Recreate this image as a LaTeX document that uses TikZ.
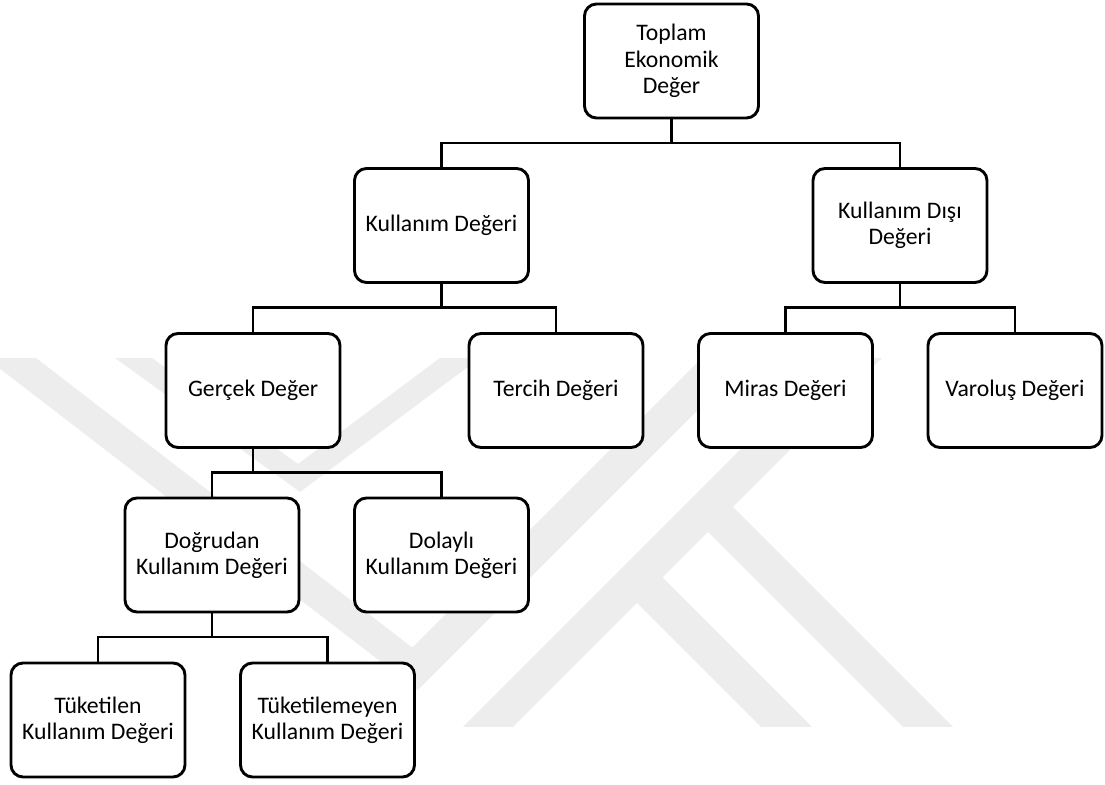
\documentclass[tikz,border=0pt]{standalone}
\usepackage{fontspec}
\setmainfont{Carlito}
\usepackage{tikz}

\begin{document}
\begin{tikzpicture}[x=0.5pt, y=-0.5pt,
        kutu/.style={draw, line width=1.45pt, rounded corners=6pt, fill=white,
            minimum width=87pt, minimum height=57pt, inner sep=0pt, align=center,
            font=\fontsize{11.85}{13.1}\selectfont},
        baglanti/.style={line width=1.1pt},
        filigran/.style={fill=black!7}]
                % page
                \useasboundingbox (0,0) rectangle (1105,785);

                % watermark
                \begin{scope}
                \clip (0,0) rectangle (1105,785);
                \fill[filigran] (-14,358) -- (36,358) -- (412.4,647.6) -- (702,358) -- (750,358) -- (417.8,690.2) -- cycle;
                \fill[filigran] (115,358) -- (152,358) -- (298,464) -- (440,358) -- (480,358) -- (300,492) -- cycle;
                \fill[filigran] (832,358) -- (882,358) -- (733,507) -- (953,727) -- (903,727) -- (708,532)
                    -- (662.5,577.5) -- (812,727) -- (761,727) -- (637,603) -- (513,727) -- (463,727) -- cycle;
                \end{scope}

                % boxes
                \node[kutu] (toplam) at (671.5,61) {Toplam\\Ekonomik\\Değer};
                \node[kutu] (kullanim) at (441.5,225.5) {Kullanım Değeri};
                \node[kutu] (kullanimdisi) at (900,225.5) {Kullanım Dışı\\Değeri};
                \node[kutu] (gercek) at (253,390.5) {Gerçek Değer};
                \node[kutu] (tercih) at (556,390.5) {Tercih Değeri};
                \node[kutu] (miras) at (785.5,390.5) {Miras Değeri};
                \node[kutu] (varolus) at (1015,390.5) {Varoluş Değeri};
                \node[kutu] (dogrudan) at (212,555) {Doğrudan\\Kullanım Değeri};
                \node[kutu] (dolayli) at (441.5,555) {Dolaylı\\Kullanım Değeri};
                \node[kutu] (tuketilen) at (98,720) {Tüketilen\\Kullanım Değeri};
                \node[kutu] (tuketilemeyen) at (327.5,720) {Tüketilemeyen\\Kullanım Değeri};

                % connectors
                \draw[baglanti] (toplam.south) -- ++(0,23.5) -| (kullanim.north);
                \draw[baglanti] (toplam.south) -- ++(0,23.5) -| (kullanimdisi.north);
                \draw[baglanti] (kullanim.south) -- ++(0,23.5) -| (gercek.north);
                \draw[baglanti] (kullanim.south) -- ++(0,23.5) -| (tercih.north);
                \draw[baglanti] (kullanimdisi.south) -- ++(0,23.5) -| (miras.north);
                \draw[baglanti] (kullanimdisi.south) -- ++(0,23.5) -| (varolus.north);
                \draw[baglanti] (gercek.south) -- ++(0,23.5) -| (dogrudan.north);
                \draw[baglanti] (gercek.south) -- ++(0,23.5) -| (dolayli.north);
                \draw[baglanti] (dogrudan.south) -- ++(0,23.5) -| (tuketilen.north);
                \draw[baglanti] (dogrudan.south) -- ++(0,23.5) -| (tuketilemeyen.north);

\end{tikzpicture}
\end{document}
